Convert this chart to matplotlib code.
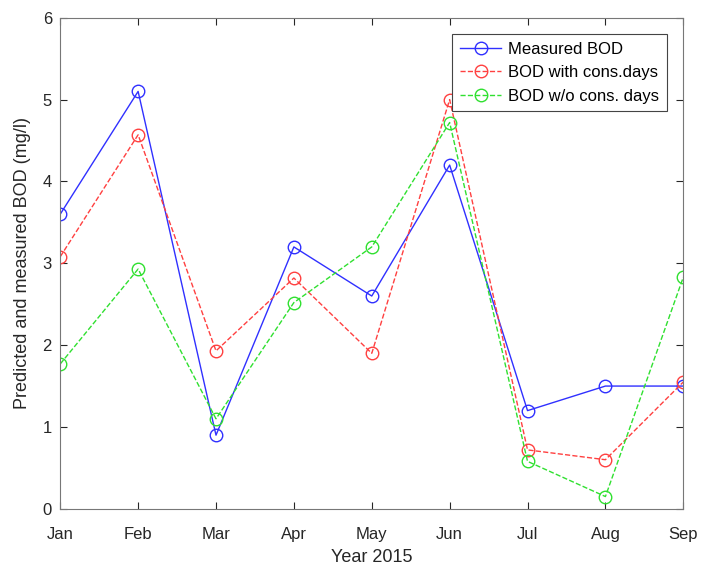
import numpy as np
import matplotlib
matplotlib.use("Agg")
import matplotlib.pyplot as plt

plt.rcParams['font.family'] = ['Liberation Sans', 'DejaVu Sans']

months = ["Jan", "Feb", "Mar", "Apr", "May", "Jun", "Jul", "Aug", "Sep"]
measured = [3.6, 5.1, 0.9, 3.2, 2.6, 4.2, 1.2, 1.5, 1.5]
with_cons = [3.08, 4.57, 1.93, 2.82, 1.9, 5.0, 0.72, 0.6, 1.55]
without_cons = [1.77, 2.93, 1.1, 2.52, 3.2, 4.72, 0.58, 0.15, 2.83]

x = np.arange(len(months))

fig = plt.figure(figsize=(7.17, 5.73), dpi=100)
ax = fig.add_axes([0.084, 0.112, 0.869, 0.857])

ax.plot(x, measured, '-o', color='#3030ff', lw=1, ms=9, mfc='none', label="Measured BOD")
ax.plot(x, with_cons, '--o', color='#ff4040', lw=1, ms=9, mfc='none', label="BOD with cons.days")
ax.plot(x, without_cons, '--o', color='#30e030', lw=1, ms=9, mfc='none', label="BOD w/o cons. days")

ax.set_xlim(0, 8)
ax.set_ylim(0, 6)
ax.set_xticks(x)
ax.set_xticklabels(months)
ax.set_yticks(range(7))
ax.tick_params(direction='in', top=True, right=True, labelsize=12, colors='#262626', length=5)
ax.tick_params(axis='x', pad=13)
ax.tick_params(axis='y', pad=6)
for s in ax.spines.values():
    s.set_color('#777777')
    s.set_linewidth(0.8)
ax.set_xlabel("Year 2015", fontsize=13, color='#262626', labelpad=5)
ax.set_ylabel("Predicted and measured BOD (mg/l)", fontsize=13, color='#262626', labelpad=8)

leg = ax.legend(loc='upper right', fontsize=12, fancybox=False, framealpha=1,
                edgecolor='#444444', borderpad=0.45, labelspacing=0.5,
                handlelength=2.5, handletextpad=0.4, borderaxespad=1.0)
leg.get_frame().set_linewidth(0.8)

fig.savefig("out.png", dpi=100)
